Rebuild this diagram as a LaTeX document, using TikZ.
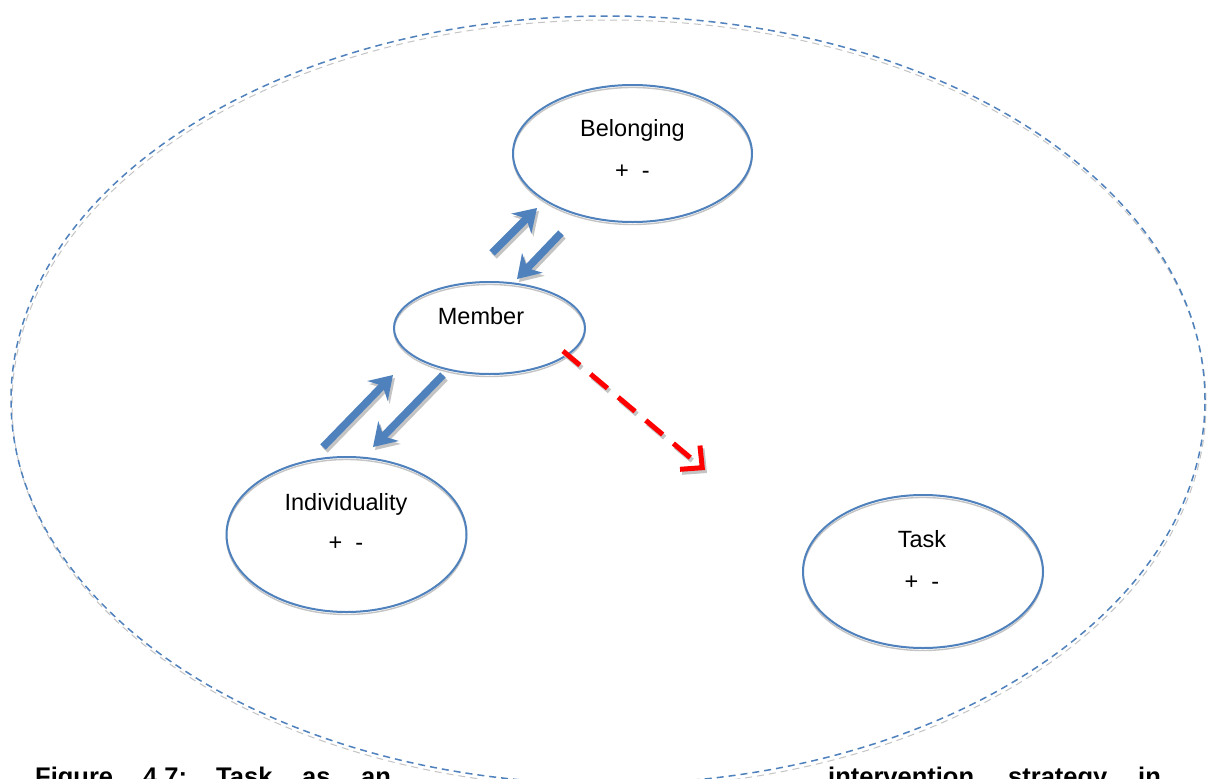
\documentclass[tikz,border=0pt]{standalone}
\usepackage{fontspec}
\setmainfont{Liberation Sans}
\usetikzlibrary{arrows.meta,shapes.geometric,calc}
\definecolor{wordblue}{HTML}{4F81BD}
\definecolor{shadowgray}{HTML}{C4C4C4}
\definecolor{arrowred}{HTML}{FF0000}

\begin{document}
\begin{tikzpicture}[x=1pt,y=-1pt,
  bubble/.style={ellipse, draw=wordblue, line width=2pt, inner sep=0pt},
  bubbleshade/.style={draw=shadowgray, line width=1.4pt},
  grouprim/.style={ellipse, draw=wordblue, line width=1.5pt, dash pattern=on 7pt off 5pt, inner sep=0pt},
  groupshade/.style={draw=shadowgray, line width=1pt, dash pattern=on 7pt off 5pt},
  lbl/.style={anchor=base, inner sep=0pt, font=\fontsize{23.5}{28}\selectfont},
  captionword/.style={anchor=base west, inner sep=0pt, font=\fontsize{25.5}{30}\selectfont\bfseries},
  flow/.style={draw=wordblue, line width=7.5pt, -{Stealth[length=22pt,width=28pt,inset=7pt]}},
  flowshade/.style={draw=shadowgray, line width=7.5pt, -{Stealth[length=22pt,width=28pt,inset=7pt]}},
  taskflow/.style={draw=arrowred, line width=5pt, dash pattern=on 22pt off 14pt,
    -{Straight Barb[length=16pt,width=31pt]}},
  taskflowshade/.style={draw=shadowgray, line width=5pt, dash pattern=on 22pt off 14pt,
    -{Straight Barb[length=16pt,width=31pt]}}]

  \useasboundingbox (0,0) rectangle (1213,779);
  \fill[white] (0,0) rectangle (1213,779);

  % outer group boundary with its soft shadow
  \draw[groupshade] (609,404) ellipse [x radius=597, y radius=384];
  \node[grouprim, minimum width=1194pt, minimum height=768pt] (group) at (608,400) {};

  % bubble shadows
  \draw[bubbleshade] (632.5,156) ellipse [x radius=119.5, y radius=68.5];
  \draw[bubbleshade] (489.5,330.5) ellipse [x radius=95.5, y radius=46];
  \draw[bubbleshade] (346.5,537) ellipse [x radius=120, y radius=77.5];
  \draw[bubbleshade] (923,574) ellipse [x radius=120, y radius=76.5];

  % bubbles
  \node[bubble, minimum width=239pt, minimum height=137pt] (bel) at (632.5,153.5) {};
  \node[bubble, minimum width=191pt, minimum height=92pt] (mem) at (489.5,328) {};
  \node[bubble, minimum width=240pt, minimum height=155pt] (ind) at (346.5,534.5) {};
  \node[bubble, minimum width=240pt, minimum height=153pt] (task) at (923,571.5) {};

  % labels
  \node[lbl] (belname) at (632.5,136) {Belonging};
  \node[lbl] (belsign) at (632.5,178) {+ \ -};
  \node[lbl] (memname) at (481,324) {Member};
  \node[lbl] (indname) at (346,510) {Individuality};
  \node[lbl] (indsign) at (346,550) {+ \ -};
  \node[lbl] (taskname) at (922,547) {Task};
  \node[lbl] (tasksign) at (922,589) {+ \ -};

  % arrow end points between the bubbles
  \coordinate (mb1) at (492,253);   \coordinate (mb2) at (537,208);
  \coordinate (bm1) at (561,233);   \coordinate (bm2) at (517,279);
  \coordinate (im1) at (323,447);   \coordinate (im2) at (393,375);
  \coordinate (mi1) at (443,375);   \coordinate (mi2) at (373,447);
  \coordinate (mt1) at (563,351);   \coordinate (mt2) at (705,470);

  % arrow shadows
  \draw[flowshade] ([shift={(2,3)}]mb1) -- ([shift={(2,3)}]mb2);
  \draw[flowshade] ([shift={(2,3)}]bm1) -- ([shift={(2,3)}]bm2);
  \draw[flowshade] ([shift={(2,3)}]im1) -- ([shift={(2,3)}]im2);
  \draw[flowshade] ([shift={(2,3)}]mi1) -- ([shift={(2,3)}]mi2);
  \draw[taskflowshade] ([shift={(2,3)}]mt1) -- ([shift={(2,3)}]mt2);

  % arrows
  \draw[flow] (mb1) -- (mb2);
  \draw[flow] (bm1) -- (bm2);
  \draw[flow] (im1) -- (im2);
  \draw[flow] (mi1) -- (mi2);
  \draw[taskflow] (mt1) -- (mt2);

  % caption line
  \node[captionword] (c1) at (35,785) {Figure};
  \node[captionword] (c2) at (143,785) {4.7:};
  \node[captionword] (c3) at (216,785) {Task};
  \node[captionword] (c4) at (302,785) {as};
  \node[captionword] (c5) at (361,785) {an};
  \node[captionword] (c6) at (828,785) {intervention};
  \node[captionword] (c7) at (1008,785) {strategy};
  \node[captionword] (c8) at (1138,785) {in};
\end{tikzpicture}
\end{document}
